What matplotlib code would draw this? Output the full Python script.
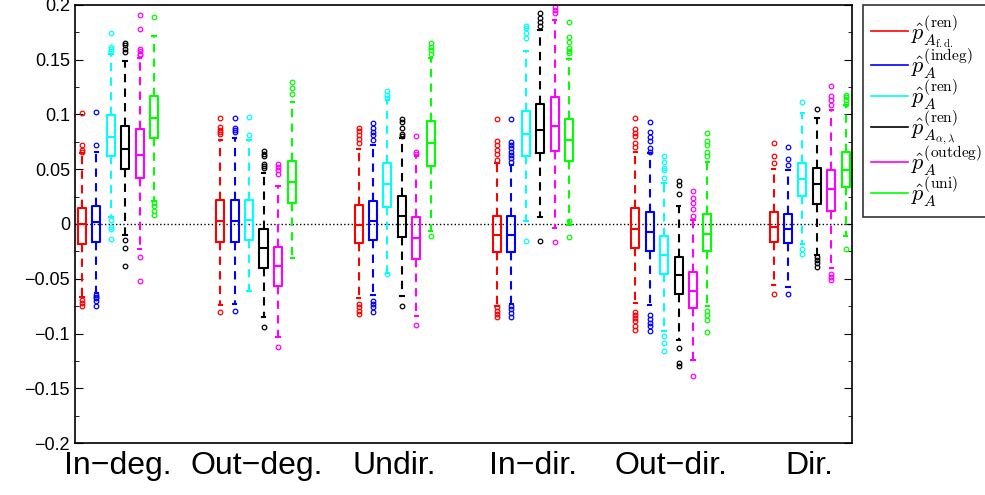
import matplotlib
matplotlib.use("Agg")
import matplotlib.pyplot as plt
from matplotlib.lines import Line2D
from matplotlib.ticker import MultipleLocator, FuncFormatter

plt.rcParams['font.family'] = ['Liberation Sans', 'DejaVu Sans']
plt.rcParams['mathtext.fontset'] = 'cm'

groups = ['In\u2212deg.', 'Out\u2212deg.', 'Undir.', 'In\u2212dir.', 'Out\u2212dir.', 'Dir.']
series = [r'$\hat{p}^{(\mathrm{ren})}_{A_{\mathrm{f.d.}}}$',
          r'$\hat{p}^{(\mathrm{indeg})}_{A}$',
          r'$\hat{p}^{(\mathrm{ren})}_{A}$',
          r'$\hat{p}^{(\mathrm{ren})}_{A_{\alpha,\lambda}}$',
          r'$\hat{p}^{(\mathrm{outdeg})}_{A}$',
          r'$\hat{p}^{(\mathrm{uni})}_{A}$']
colors = ['#ff0000', '#0000ff', '#00ffff', '#000000', '#ff00ff', '#00ff00']

# rows = series, columns = groups
med = [[0.0, 0.0024, -0.0006, -0.0098, -0.0043, -0.0027],
       [0.0018, 0.0024, 0.0024, -0.0098, -0.0073, -0.0043],
       [0.0797, 0.0033, 0.0362, 0.0818, -0.0287, 0.0414],
       [0.0688, -0.0216, 0.0069, 0.0861, -0.047, 0.0362],
       [0.063, -0.038, -0.0128, 0.0897, -0.0609, 0.0318],
       [0.097, 0.038, 0.074, 0.077, -0.0091, 0.0496]]
q3 = [[0.015, 0.0222, 0.0176, 0.0069, 0.0143, 0.011],
      [0.0167, 0.0216, 0.0206, 0.0069, 0.0112, 0.0089],
      [0.0998, 0.022, 0.0553, 0.1028, -0.0113, 0.056],
      [0.0897, -0.0049, 0.0252, 0.110, -0.0305, 0.051],
      [0.087, -0.021, 0.006, 0.1162, -0.0442, 0.0496],
      [0.1168, 0.0578, 0.0943, 0.096, 0.0094, 0.0654]]
q1 = [[-0.0183, -0.0168, -0.0174, -0.026, -0.0222, -0.0164],
      [-0.0164, -0.0168, -0.0143, -0.026, -0.025, -0.0174],
      [0.0617, -0.015, 0.0158, 0.0617, -0.046, 0.0252],
      [0.050, -0.040, -0.0116, 0.0645, -0.0637, 0.018],
      [0.042, -0.057, -0.0317, 0.0664, -0.0767, 0.0115],
      [0.0782, 0.0188, 0.0532, 0.0578, -0.0244, 0.0337]]
whi = [[0.065, 0.077, 0.0687, 0.0556, 0.066, 0.050],
       [0.066, 0.0785, 0.0718, 0.054, 0.0648, 0.0496],
       [0.155, 0.077, 0.1135, 0.158, 0.0374, 0.101],
       [0.149, 0.0465, 0.0785, 0.1774, 0.0168, 0.097],
       [0.152, 0.0343, 0.0617, 0.1866, 0.004, 0.1043],
       [0.172, 0.111, 0.152, 0.1506, 0.0565, 0.1087]]
wlo = [[-0.067, -0.0743, -0.0678, -0.0747, -0.0722, -0.056],
       [-0.063, -0.073, -0.0646, -0.0728, -0.0743, -0.0578],
       [0.006, -0.0615, -0.0448, 0.003, -0.0975, -0.018],
       [-0.0098, -0.085, -0.066, 0.006, -0.1057, -0.028],
       [-0.023, -0.1036, -0.0844, -0.0037, -0.124, -0.040],
       [0.0206, -0.0311, -0.0061, -0.0006, -0.0752, -0.0107]]
fliers = [
    [[0.101, 0.072, 0.068, 0.066, -0.069, -0.072, -0.075],
     [0.0967, 0.089, 0.086, 0.084, 0.082, -0.0807],
     [0.0876, 0.085, 0.081, 0.078, 0.074, -0.073, -0.076, -0.079, -0.082],
     [0.096, 0.0755, 0.072, 0.068, 0.064, 0.058, -0.076, -0.079, -0.082, -0.085],
     [0.0967, 0.087, 0.083, 0.080, 0.074, 0.0705, -0.080, -0.083, -0.086, -0.089, -0.093, -0.0965],
     [0.0737, 0.0624, 0.0556, -0.0637]],
    [[0.102, 0.072, -0.065, -0.067, -0.068, -0.070, -0.075],
     [0.0967, 0.088, 0.086, 0.084, -0.0792],
     [0.0924, 0.088, 0.084, 0.081, 0.077, -0.070, -0.073, -0.076, -0.080],
     [0.096, 0.075, 0.072, 0.069, 0.066, 0.063, 0.060, 0.057, -0.075, -0.078, -0.081, -0.085],
     [0.0928, 0.084, 0.0797, 0.0755, 0.069, 0.066, -0.083, -0.087, -0.090, -0.093, -0.098],
     [0.070, 0.0596, 0.054, -0.064]],
    [[0.174, 0.162, 0.160, 0.158, 0.004, -0.003, -0.0045, -0.0134],
     [0.0973, 0.0815],
     [0.121, 0.118, 0.115, -0.046],
     [0.181, 0.179, 0.174, 0.170, -0.0153],
     [0.062, 0.057, 0.0514, 0.049, 0.042, -0.102, -0.109, -0.116],
     [0.111, -0.023, -0.027]],
    [[0.165, 0.163, 0.160, 0.157, -0.0144, -0.022, -0.0387],
     [0.0663, 0.064, 0.062, 0.055, 0.053, 0.051, -0.094],
     [0.096, 0.093, 0.088, 0.082, 0.080, -0.0747],
     [0.1925, 0.188, 0.184, 0.181, -0.0159],
     [0.039, 0.036, 0.0276, -0.1133, -0.127, -0.130],
     [0.105, -0.030, -0.033, -0.036, -0.039]],
    [[0.191, 0.178, 0.160, 0.158, 0.155, 0.154, -0.0305, -0.0518],
     [0.055, 0.052, 0.049, 0.046, -0.1124],
     [0.0806, 0.066, 0.0635, -0.092],
     [0.198, 0.195, 0.193, -0.0168],
     [0.0297, 0.024, 0.019, 0.014, 0.007, -0.1385],
     [0.126, 0.117, 0.113, 0.109, -0.046, -0.048, -0.051]],
    [[0.189, 0.0194, 0.016, 0.012, 0.008],
     [0.130, 0.124, 0.119],
     [0.165, 0.162, 0.159, 0.155, -0.0107],
     [0.184, 0.171, 0.166, 0.161, 0.158, 0.156, 0.003, -0.0121],
     [0.083, 0.0755, 0.072, 0.066, 0.0617, -0.079, -0.083, -0.088, -0.099],
     [0.118, 0.116, 0.113, 0.110, -0.023]],
]

fig = plt.figure(figsize=(9.85, 4.95), dpi=100)
ax = fig.add_axes([0.0761, 0.105, 0.789, 0.885])

ax.axhline(0, color='k', linestyle=':', linewidth=1.0, zorder=0)

step = 0.104
for s in range(len(series)):
    stats = []
    pos = []
    for g in range(len(groups)):
        stats.append(dict(med=med[s][g], q1=q1[s][g], q3=q3[s][g],
                          whislo=wlo[s][g], whishi=whi[s][g], fliers=fliers[s][g]))
        pos.append(g + 1 + (s - 2.5) * step)
    c = colors[s]
    ax.bxp(stats, positions=pos, widths=0.058, capwidths=0.025, manage_ticks=False,
           boxprops=dict(color=c, linewidth=1.5),
           medianprops=dict(color=c, linewidth=1.5),
           whiskerprops=dict(color=c, linewidth=1.5, linestyle=(0, (4, 3))),
           capprops=dict(color=c, linewidth=1.5),
           flierprops=dict(marker='o', markersize=3.3, markerfacecolor='none',
                           markeredgecolor=c, markeredgewidth=0.9, linestyle='none'))

ax.set_xlim(0.689, 6.307)
ax.set_ylim(-0.2, 0.2)
ax.set_xticks(range(1, len(groups) + 1))
ax.set_xticklabels(groups, fontsize=23)
ax.tick_params(axis='x', length=0, pad=6)
ax.yaxis.set_major_locator(MultipleLocator(0.05))
ax.yaxis.set_minor_locator(MultipleLocator(0.025))
ax.yaxis.set_major_formatter(FuncFormatter(lambda v, p: ('%g' % round(v, 3)).replace('-', '\u2212')))
ax.tick_params(axis='y', which='both', direction='in', right=True, labelsize=13)
ax.tick_params(axis='y', which='major', length=6)
ax.tick_params(axis='y', which='minor', length=3)
for sp in ax.spines.values():
    sp.set_linewidth(1.2)

handles = [Line2D([], [], color=c, linewidth=1.2) for c in colors]
leg = fig.legend(handles, series, loc='upper left', bbox_to_anchor=(0.876, 0.99),
                 fontsize=16, frameon=True, fancybox=False, edgecolor='k',
                 borderaxespad=0, handlelength=1.7, handletextpad=0.1,
                 labelspacing=-0.15, borderpad=0.35)
leg.get_frame().set_linewidth(1.2)

fig.savefig('out.png', dpi=100)
